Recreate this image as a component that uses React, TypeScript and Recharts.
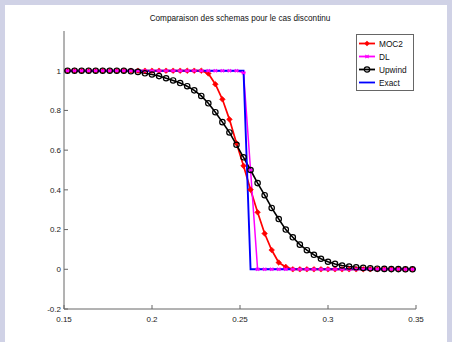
import React from "react";
import { LineChart, Line, XAxis, YAxis } from "recharts";

// cell centres of the mesh (dx = 0.004)
const xCenters = [
  0.152, 0.156, 0.16, 0.164, 0.168, 0.172, 0.176, 0.18, 0.184, 0.188,
  0.192, 0.196, 0.2, 0.204, 0.208, 0.212, 0.216, 0.22, 0.224, 0.228,
  0.232, 0.236, 0.24, 0.244, 0.248, 0.252, 0.256, 0.26, 0.264, 0.268,
  0.272, 0.276, 0.28, 0.284, 0.288, 0.292, 0.296, 0.3, 0.304, 0.308,
  0.312, 0.316, 0.32, 0.324, 0.328, 0.332, 0.336, 0.34, 0.344, 0.348,
];

const moc2 = [
  1, 1, 1, 1, 1, 1, 1, 1, 1, 1,
  1, 1, 1, 1, 1, 1, 1, 1, 1, 1,
  0.986, 0.932, 0.856, 0.755, 0.635, 0.521, 0.401, 0.287, 0.18, 0.097,
  0.034, 0.012, 0, 0, 0, 0, 0, 0, 0, 0,
  0, 0, 0, 0, 0, 0, 0, 0, 0, 0,
];

const dl = [
  1, 1, 1, 1, 1, 1, 1, 1, 1, 1,
  1, 1, 1, 1, 1, 1, 1, 1, 1, 1,
  1, 1, 1, 1, 1, 0.99, 0.5, 0, 0, 0,
  0, 0, 0, 0, 0, 0, 0, 0, 0, 0,
  0, 0, 0, 0, 0, 0, 0, 0, 0, 0,
];

const upwind = [
  1, 1, 1, 1, 1, 1, 1, 1, 1, 0.997,
  0.994, 0.987, 0.981, 0.973, 0.962, 0.951, 0.938, 0.922, 0.901, 0.873,
  0.836, 0.791, 0.741, 0.689, 0.627, 0.564, 0.5, 0.434, 0.373, 0.309,
  0.253, 0.2, 0.161, 0.124, 0.096, 0.073, 0.053, 0.038, 0.027, 0.019,
  0.014, 0.01, 0.007, 0.005, 0.003, 0.002, 0.001, 0.001, 0, 0,
];

const exactX = [0.15, 0.252, 0.256, 0.35];
const exactY = [1, 1, 0, 0];

const xTicks = [0.15, 0.2, 0.25, 0.3, 0.35];
const yTicks = [-0.2, 0, 0.2, 0.4, 0.6, 0.8, 1];

const toPoints = (xs: number[], ys: number[]) => xs.map((x, i) => ({ x, y: ys[i] }));

const FONT = "'Liberation Sans', Arial, sans-serif";
const AXIS = "#666";

const diamond = (cx: number, cy: number, s: number) =>
  `M${cx},${cy - s}L${cx + s},${cy}L${cx},${cy + s}L${cx - s},${cy}Z`;

const star = (cx: number, cy: number, s: number) =>
  `M${cx - s},${cy}L${cx + s},${cy}M${cx - s * 0.7},${cy - s * 0.7}L${cx + s * 0.7},${cy + s * 0.7}` +
  `M${cx - s * 0.7},${cy + s * 0.7}L${cx + s * 0.7},${cy - s * 0.7}`;

const MocDot = (p: any) =>
  p.cx == null ? null : <path key={`moc-${p.index}`} d={diamond(p.cx, p.cy, 2.8)} fill="#ff0000" stroke="#ff0000" strokeWidth={0.6} />;
const DlDot = (p: any) =>
  p.cx == null ? null : <path key={`dl-${p.index}`} d={star(p.cx, p.cy, 2.4)} stroke="#ff00ff" strokeWidth={1.1} fill="none" />;
const UpDot = (p: any) =>
  p.cx == null ? null : <circle key={`up-${p.index}`} cx={p.cx} cy={p.cy} r={2.7} fill="none" stroke="#000" strokeWidth={1.2} />;

const legendRows = [
  { name: "MOC2", color: "#ff0000", mark: "diamond" },
  { name: "DL", color: "#ff00ff", mark: "star" },
  { name: "Upwind", color: "#000000", mark: "circle" },
  { name: "Exact", color: "#0000ff", mark: "none" },
];

function LegendBox() {
  return (
    <svg width={58} height={57} style={{ position: "absolute", left: 356, top: 34 }}>
      <rect x={0.5} y={0.5} width={57} height={56} fill="#fff" stroke={AXIS} strokeWidth={1} />
      {legendRows.map((r, i) => {
        const y = 9.5 + i * 13;
        return (
          <g key={r.name}>
            <line x1={3} x2={19} y1={y} y2={y} stroke={r.color} strokeWidth={1.8} />
            {r.mark === "diamond" && <path d={diamond(11, y, 2.8)} fill={r.color} />}
            {r.mark === "star" && <path d={star(11, y, 2.4)} stroke={r.color} strokeWidth={1.1} />}
            {r.mark === "circle" && <circle cx={11} cy={y} r={2.7} fill="none" stroke={r.color} strokeWidth={1.2} />}
            <text x={23} y={y + 3} fontSize={8.3} fontFamily={FONT} fill="#111">
              {r.name}
            </text>
          </g>
        );
      })}
    </svg>
  );
}

export default function App() {
  const tickStyle = { fill: "#222", fontSize: 8, fontFamily: FONT };
  return (
    <div style={{ position: "fixed", left: 0, top: 0, width: 452, height: 342, background: "#d0d2e6" }}>
      <div style={{ position: "absolute", left: 5, top: 5, width: 442, height: 337, background: "#fff" }} />
      <div
        style={{
          position: "absolute",
          left: 0,
          top: 14,
          width: 480,
          textAlign: "center",
          fontFamily: FONT,
          fontSize: 8.2,
          color: "#111",
        }}
      >
        Comparaison des schemas pour le cas discontinu
      </div>
      <div style={{ position: "absolute", left: 0, top: 0 }}>
        <LineChart width={452} height={342} margin={{ top: 31, right: 36, bottom: 13, left: 0 }}>
          <XAxis
            xAxisId="b"
            type="number"
            dataKey="x"
            domain={[0.15, 0.35]}
            ticks={xTicks}
            allowDataOverflow
            height={20}
            tickSize={-4}
            tickMargin={11}
            tick={tickStyle}
            stroke={AXIS}
          />
          <XAxis
            xAxisId="t"
            orientation="top"
            type="number"
            dataKey="x"
            domain={[0.15, 0.35]}
            ticks={xTicks}
            allowDataOverflow
            height={0}
            mirror
            tickSize={4}
            tick={false}
            stroke={AXIS}
          />
          <YAxis
            yAxisId="l"
            type="number"
            domain={[-0.2, 1.2]}
            ticks={yTicks}
            allowDataOverflow
            width={64}
            tickSize={-4}
            tickMargin={7}
            tick={tickStyle}
            stroke={AXIS}
          />
          <YAxis
            yAxisId="r"
            orientation="right"
            type="number"
            domain={[-0.2, 1.2]}
            ticks={yTicks}
            allowDataOverflow
            width={0}
            mirror
            tickSize={4}
            tick={false}
            stroke={AXIS}
          />
          <Line
            xAxisId="b"
            yAxisId="l"
            data={toPoints(xCenters, moc2)}
            dataKey="y"
            type="linear"
            stroke="#ff0000"
            strokeWidth={1.7}
            dot={MocDot}
            isAnimationActive={false}
          />
          <Line
            xAxisId="b"
            yAxisId="l"
            data={toPoints(xCenters, dl)}
            dataKey="y"
            type="linear"
            stroke="#ff00ff"
            strokeWidth={1.5}
            dot={DlDot}
            isAnimationActive={false}
          />
          <Line
            xAxisId="b"
            yAxisId="l"
            data={toPoints(xCenters, upwind)}
            dataKey="y"
            type="linear"
            stroke="#000"
            strokeWidth={1.6}
            dot={UpDot}
            isAnimationActive={false}
          />
          <Line
            xAxisId="b"
            yAxisId="l"
            data={toPoints(exactX, exactY)}
            dataKey="y"
            type="linear"
            stroke="#0000ff"
            strokeWidth={1.9}
            dot={false}
            isAnimationActive={false}
          />
        </LineChart>
      </div>
      <LegendBox />
    </div>
  );
}
